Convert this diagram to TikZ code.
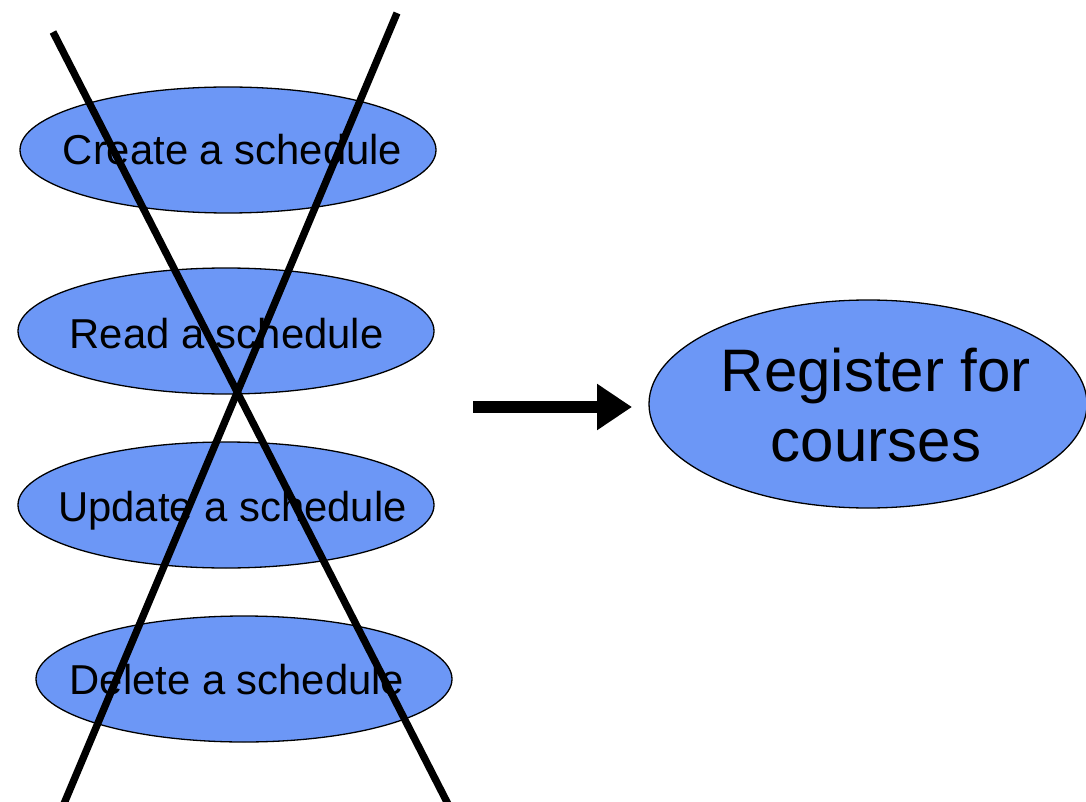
\documentclass[tikz,border=0pt]{standalone}
\usepackage{fontspec}
\setmainfont{Liberation Sans}
\usetikzlibrary{shapes.geometric,arrows.meta}
\definecolor{ucfill}{RGB}{108,151,246}
\begin{document}
\begin{tikzpicture}[x=1pt,y=-1pt,
  uc/.style={ellipse, draw=black, line width=1.3pt, fill=ucfill, inner sep=0pt},
  smalluc/.style={uc, minimum width=416pt, minimum height=126pt},
  lbl/.style={font=\fontsize{41.8}{50}\selectfont, anchor=base, inner sep=0pt},
  crossline/.style={line width=7.3pt},
  bigarrow/.style={line width=12pt, -{Triangle[length=35pt,width=44pt]}}]
\useasboundingbox (0,0) rectangle (1086,802);
\node[smalluc] (e1) at (228,150) {};
\node[smalluc] (e2) at (226,331) {};
\node[smalluc] (e3) at (226,505) {};
\node[smalluc] (e4) at (244,679) {};
\node[lbl] (t1) at (232.5,165) {Create a schedule};
\node[lbl] (t2) at (226.5,348) {Read a schedule};
\node[lbl] (t3) at (232.5,521) {Update a schedule};
\node[lbl] (t4) at (237,694) {Delete a schedule};
\node[uc, minimum width=438pt, minimum height=208pt] (e5) at (868,404) {};
\node[font=\fontsize{60}{70}\selectfont, align=center, inner sep=0pt] (t5) at (876,405) {Register for\\courses};
\coordinate (a0) at (473,407);
\coordinate (a1) at (632,407);
\draw[bigarrow] (a0) -- (a1);
\coordinate (x1a) at (53,32);
\coordinate (x1b) at (449,806);
\coordinate (x2a) at (397,13);
\coordinate (x2b) at (63,806);
\draw[crossline] (x1a) -- (x1b);
\draw[crossline] (x2a) -- (x2b);
\end{tikzpicture}
\end{document}
